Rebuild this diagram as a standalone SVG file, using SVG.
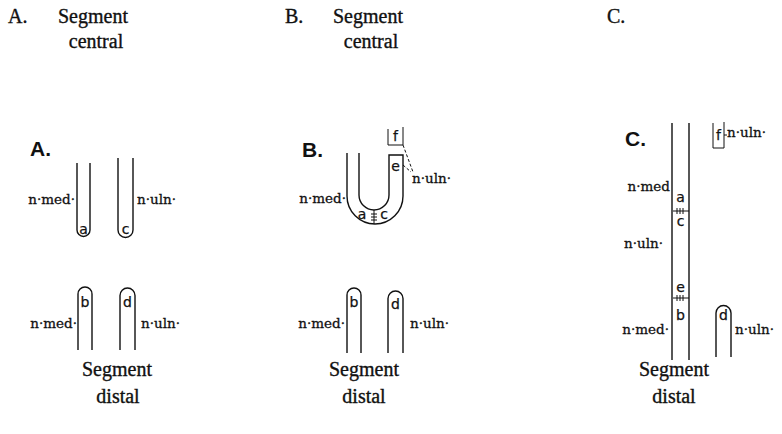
<svg xmlns="http://www.w3.org/2000/svg" width="782" height="434" viewBox="0 0 782 434">
<style>
.hd{font-family:"Liberation Serif","Times New Roman",serif;font-size:20px;fill:#111;stroke:#111;stroke-width:0.35}
.mid{text-anchor:middle}
.pl{font-family:"Liberation Sans",Arial,sans-serif;font-weight:bold;font-size:21px;fill:#111}
.lb{font-family:"DejaVu Serif",serif;font-size:13.5px;fill:#111;stroke:#111;stroke-width:0.3}
.lt{font-family:"DejaVu Sans",sans-serif;font-size:14px;fill:#111;stroke:#111;stroke-width:0.25;text-anchor:middle}
.end{text-anchor:end}
.ln{fill:none;stroke:#111;stroke-width:1.4}
.ds{fill:none;stroke:#111;stroke-width:1;stroke-dasharray:3 2}
.tk{fill:none;stroke:#111;stroke-width:1}
</style>
<rect width="782" height="434" fill="#fff"/>

<g id="headers">
<text class="hd" x="8" y="23">A.</text>
<text class="hd mid" x="93" y="23">Segment</text>
<text class="hd mid" x="96" y="48">central</text>
<text class="hd" x="285" y="23">B.</text>
<text class="hd mid" x="368" y="23">Segment</text>
<text class="hd mid" x="371" y="48">central</text>
<text class="hd" x="607" y="23">C.</text>
<text class="hd mid" x="117" y="376">Segment</text>
<text class="hd mid" x="118" y="403">distal</text>
<text class="hd mid" x="364" y="376">Segment</text>
<text class="hd mid" x="364" y="403">distal</text>
<text class="hd mid" x="674" y="376">Segment</text>
<text class="hd mid" x="674" y="403">distal</text>
</g>

<g id="panelA">
<text class="pl" x="30" y="156">A.</text>
<g id="A-a">
<path class="ln" d="M77,163 V230 A6.5,6.5 0 0 0 90,230 V163"/>
<text class="lt" x="83.5" y="234">a</text>
</g>
<g id="A-c">
<path class="ln" d="M118,158 V230 A7.5,7.5 0 0 0 133,230 V158"/>
<text class="lt" x="125.5" y="234">c</text>
</g>
<text class="lb end" x="75" y="204">n·med·</text>
<text class="lb" x="137" y="204">n·uln·</text>
<g id="A-b">
<path class="ln" d="M78,350 V294 A7,7 0 0 1 92,294 V350"/>
<text class="lt" x="85" y="307">b</text>
</g>
<g id="A-d">
<path class="ln" d="M120,350 V295.5 A7.5,7.5 0 0 1 135,295.5 V350"/>
<text class="lt" x="127.5" y="307">d</text>
</g>
<text class="lb end" x="77" y="328">n·med·</text>
<text class="lb" x="141" y="328">n·uln·</text>
</g>

<g id="panelB">
<text class="pl" x="302" y="157">B.</text>
<g id="B-U">
<path class="ln" d="M347,153 V196 A28,28 0 0 0 403,196 V155 H389 V195 A15,15 0 0 1 359,195 V153"/>
<path class="tk" d="M374,210 V224 M371,214 H377 M371,217 H377 M371,220 H377"/>
<text class="lt" x="362" y="219">a</text>
<text class="lt" x="384" y="219">c</text>
<text class="lt" x="395.5" y="171">e</text>
</g>
<g id="B-f">
<path class="tk" d="M388,129 V145 H403 V127"/>
<text class="lt" x="395.5" y="141">f</text>
</g>
<text class="lb" x="412" y="183">n·uln·</text>
<text class="lb end" x="346" y="203">n·med·</text>
<g id="B-b">
<path class="ln" d="M347,353 V295 A7,7 0 0 1 361,295 V353"/>
<text class="lt" x="354" y="307">b</text>
</g>
<g id="B-d">
<path class="ln" d="M388,353 V298.5 A7.5,7.5 0 0 1 403,298.5 V353"/>
<text class="lt" x="395.5" y="309">d</text>
</g>
<text class="lb end" x="345" y="328">n·med·</text>
<text class="lb" x="410" y="328">n·uln·</text>
</g>

<g id="panelC">
<text class="pl" x="625" y="146">C.</text>
<g id="C-trunk">
<path class="ln" d="M672,123 V360 M689,123 V360"/>
<text class="lt" x="680.5" y="202">a</text>
<path class="tk" d="M673,211 H689 M677,208 V214 M680,208 V214 M683,208 V214"/>
<text class="lt" x="680.5" y="226">c</text>
<text class="lt" x="680.5" y="292">e</text>
<path class="tk" d="M673,298 H689 M677,295 V301 M680,295 V301 M683,295 V301"/>
<text class="lt" x="680.5" y="320">b</text>
</g>
<g id="C-f">
<path class="tk" d="M713,123 V148 H724 V122"/>
<text class="lt" x="718.5" y="140">f</text>
</g>
<text class="lb" x="727" y="137">n·uln·</text>
<text class="lb end" x="670" y="191">n·med</text>
<text class="lb end" x="663" y="248">n·uln·</text>
<text class="lb end" x="669" y="334">n·med·</text>
<g id="C-d">
<path class="ln" d="M716,357 V313 A7.5,7.5 0 0 1 731,313 V357"/>
<text class="lt" x="723.5" y="320">d</text>
</g>
<text class="lb" x="735" y="334">n·uln·</text>
</g>

<g id="connectors">
<path class="ds" d="M403,145 L413,172"/>
<path class="ds" d="M403,165 L411,172"/>
<path class="tk" d="M724,135 H727"/>
</g>
</svg>
